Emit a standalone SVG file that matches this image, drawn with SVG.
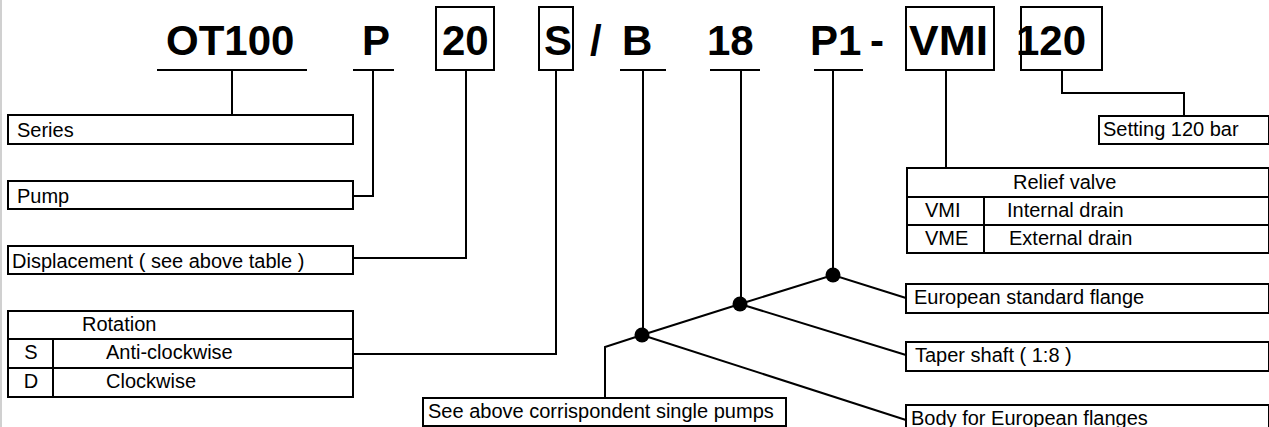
<svg xmlns="http://www.w3.org/2000/svg" width="1269" height="427" viewBox="0 0 1269 427">
<style>
.hd{font-family:"Liberation Sans",Arial,sans-serif;font-weight:bold;font-size:42px;fill:#000}
.t{font-family:"Liberation Sans",Arial,sans-serif;font-size:20px;fill:#000}
.box{fill:#fff;stroke:#000;stroke-width:2}
.ln{fill:none;stroke:#000;stroke-width:2}
</style>
<rect width="1269" height="427" fill="#fff"/>
<line x1="1" y1="0" x2="1" y2="427" stroke="#d0d0d0" stroke-width="2"/>

<g id="header">
<text class="hd" x="166" y="55">OT100</text>
<text class="hd" x="362" y="55">P</text>
<rect class="box" x="436" y="7" width="58" height="63"/>
<text class="hd" x="442" y="55">20</text>
<rect class="box" x="539" y="7" width="34" height="63"/>
<text class="hd" x="544" y="55">S</text>
<text class="hd" x="590" y="55">/</text>
<text class="hd" x="622" y="55">B</text>
<text class="hd" x="707" y="55">18</text>
<text class="hd" x="810" y="55">P1</text>
<text class="hd" x="870" y="55">-</text>
<rect class="box" x="906" y="7" width="88" height="63"/>
<text class="hd" x="909" y="55" textLength="79" lengthAdjust="spacingAndGlyphs">VMI</text>
<rect class="box" x="1021" y="7" width="81" height="63"/>
<text class="hd" x="1016" y="55">120</text>
</g>

<g id="connectors">
<line class="ln" x1="157" y1="70" x2="307" y2="70"/>
<line class="ln" x1="353" y1="70" x2="394" y2="70"/>
<line class="ln" x1="620" y1="70" x2="666" y2="70"/>
<line class="ln" x1="710" y1="70" x2="760" y2="70"/>
<line class="ln" x1="814" y1="70" x2="863" y2="70"/>
<polyline class="ln" points="232,70 232,115"/>
<polyline class="ln" points="373,70 373,196 353,196"/>
<polyline class="ln" points="466,70 466,258 353,258"/>
<polyline class="ln" points="556,70 556,354 353,354"/>
<polyline class="ln" points="643,70 643,335"/>
<polyline class="ln" points="741,70 741,304"/>
<polyline class="ln" points="833,70 833,275"/>
<polyline class="ln" points="946,70 946,168"/>
<polyline class="ln" points="1062,70 1062,93 1184,93 1184,116"/>
<polyline class="ln" points="605,398 605,347 642,335 740,304 833,275 906,298"/>
<polyline class="ln" points="740,304 906,355"/>
<polyline class="ln" points="642,335 906,420"/>
<circle cx="642" cy="335" r="7.5" fill="#000"/>
<circle cx="740" cy="304" r="7.5" fill="#000"/>
<circle cx="833" cy="275" r="7.5" fill="#000"/>
</g>

<g id="series">
<rect class="box" x="8" y="115" width="345" height="29"/>
<text class="t" x="17" y="137">Series</text>
</g>
<g id="pump">
<rect class="box" x="8" y="181" width="345" height="28"/>
<text class="t" x="17" y="203">Pump</text>
</g>
<g id="displacement">
<rect class="box" x="8" y="246" width="345" height="28"/>
<text class="t" x="12" y="268">Displacement ( see above table )</text>
</g>
<g id="rotation">
<rect class="box" x="8" y="311" width="345" height="86"/>
<line class="ln" x1="8" y1="339" x2="353" y2="339"/>
<line class="ln" x1="8" y1="368" x2="353" y2="368"/>
<line class="ln" x1="53" y1="339" x2="53" y2="397"/>
<text class="t" x="82" y="331">Rotation</text>
<text class="t" x="31" y="359" text-anchor="middle">S</text>
<text class="t" x="106" y="359">Anti-clockwise</text>
<text class="t" x="31" y="388" text-anchor="middle">D</text>
<text class="t" x="106" y="388">Clockwise</text>
</g>
<g id="single-pumps">
<rect class="box" x="423" y="398" width="363" height="28"/>
<text class="t" x="428" y="418">See above corrispondent single pumps</text>
</g>
<g id="setting">
<rect class="box" x="1099" y="116" width="170" height="28"/>
<text class="t" x="1103" y="136">Setting 120 bar</text>
</g>
<g id="relief-valve">
<rect class="box" x="907" y="168" width="362" height="85"/>
<line class="ln" x1="907" y1="197" x2="1269" y2="197"/>
<line class="ln" x1="907" y1="225" x2="1269" y2="225"/>
<line class="ln" x1="984" y1="197" x2="984" y2="253"/>
<text class="t" x="1013" y="189">Relief valve</text>
<text class="t" x="925" y="217">VMI</text>
<text class="t" x="1007" y="217">Internal drain</text>
<text class="t" x="925" y="245">VME</text>
<text class="t" x="1009" y="245">External drain</text>
</g>
<g id="european-flange">
<rect class="box" x="906" y="284" width="363" height="29"/>
<text class="t" x="914" y="304">European standard flange</text>
</g>
<g id="taper-shaft">
<rect class="box" x="906" y="342" width="363" height="29"/>
<text class="t" x="915" y="362">Taper shaft ( 1:8 )</text>
</g>
<g id="body">
<rect class="box" x="906" y="405" width="363" height="30"/>
<text class="t" x="911" y="425">Body for European flanges</text>
</g>
</svg>
